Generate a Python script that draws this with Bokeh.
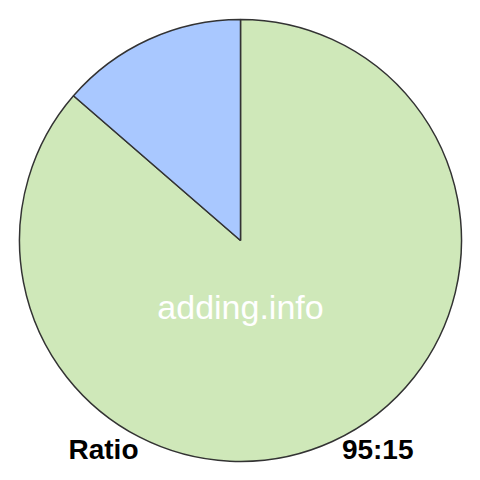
from math import pi
from bokeh.plotting import figure
from bokeh.models import ColumnDataSource, Range1d
from bokeh.core.properties import value
from bokeh.embed import file_html
from bokeh.resources import INLINE

names = ["first", "second"]
values = [95, 15]
colors = ["#cfe8b9", "#a9c8ff"]
watermark = "adding.info"
left_label = "Ratio"
right_label = "95:15"

# second slice starts at 12 o'clock going counterclockwise, first fills the rest
total = sum(values)
starts, ends = [], []
a = pi / 2
for v in reversed(values):
    starts.insert(0, a)
    a += v / total * 2 * pi
    ends.insert(0, a)

source = ColumnDataSource(data=dict(name=names, value=values, color=colors,
                                    start=starts, end=ends))

p = figure(width=464, height=464, output_backend="svg", toolbar_location=None,
           x_range=Range1d(0, 464), y_range=Range1d(0, 464), min_border=0)
p.wedge(x=240, y=224, radius=221, start_angle='start', end_angle='end',
        fill_color='color', line_color="#333333", line_width=1.5, source=source)

font = value("Liberation Sans")
p.text(x=[240], y=[158], text=[watermark], text_color="white",
       text_font_size="34px", text_align="center", text_baseline="middle",
       text_font=font)
p.text(x=[68], y=[15], text=[left_label], text_color="black",
       text_font_size="28px", text_font_style="bold", text_align="left",
       text_baseline="middle", text_font=font)
p.text(x=[413], y=[15], text=[right_label], text_color="black",
       text_font_size="28px", text_font_style="bold", text_align="right",
       text_baseline="middle", text_font=font)

p.axis.visible = False
p.grid.grid_line_color = None
p.outline_line_color = None

open("out.html", "w").write(file_html(p, INLINE))
